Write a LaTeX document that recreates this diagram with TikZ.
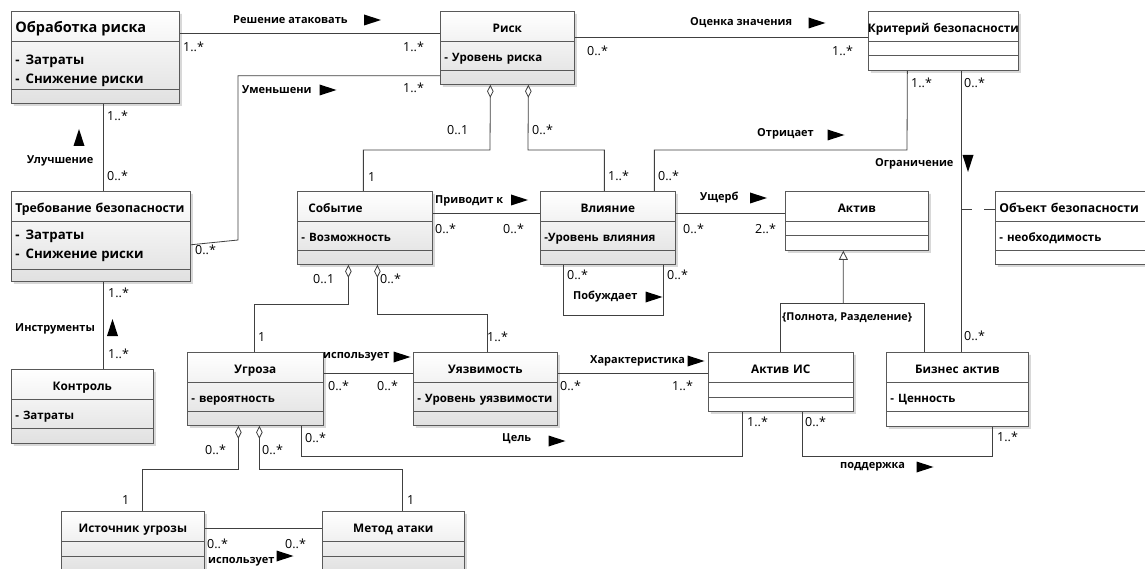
\documentclass[tikz,border=0pt]{standalone}
\usepackage{fontspec}
\setmainfont{Open Sans}
\usetikzlibrary{shapes.multipart,shapes.geometric,shadows,arrows.meta}

\newcommand\bgfont{\fontsize{14.5}{16}\selectfont\bfseries}
\newcommand\nmfont{\fontsize{11.8}{14}\selectfont\bfseries}
\newcommand\bigattr{\fontsize{13.2}{19}\selectfont\bfseries}
\newcommand\atfont{\fontsize{11.5}{13}\selectfont\bfseries}
\newcommand\assocfont{\fontsize{11}{12}\selectfont\bfseries}
\newcommand\multfont{\fontsize{12.5}{14}\selectfont}
\newcommand\cname[1]{\nmfont\makebox[\linewidth]{\rule[-8pt]{0pt}{29pt}#1}}
\newcommand\lname[2][\bgfont]{#1\makebox[\linewidth][l]{\rule[-8pt]{0pt}{29pt}#2}}
\newcommand\cattr[1]{\atfont\rule[-9pt]{0pt}{29pt}#1}
\newcommand\twoattr[3][23]{\bigattr\rule{0pt}{#1pt}-\hspace{6pt}#2\\-\hspace{6pt}#3\rule[-\numexpr29-#1\relax pt]{0pt}{\numexpr29-#1\relax pt}}
\newcommand\cgap[1]{\rule{0pt}{#1pt}}

\begin{document}
\begin{tikzpicture}[x=1pt, y=-1pt,
    cls/.style={rectangle split, rectangle split parts=3, draw=black!65, line width=0.7pt,
      inner xsep=4pt, inner ysep=0pt, anchor=north west, align=left,
      font=\fontsize{12}{19}\selectfont,
      drop shadow={shadow xshift=2.5pt, shadow yshift=-2.5pt, fill=black!30}},
    tinted/.style={top color=white, bottom color=black!12},
    blank/.style={fill=white},
    link/.style={draw=black!75, line width=0.8pt},
    agg/.style={link, {Diamond[open, length=13pt, width=6.5pt]}-},
    mult/.style={font=\multfont, inner sep=0pt, anchor=west},
    assoc/.style={font=\assocfont, inner sep=0pt, anchor=west},
    dirmark/.style={isosceles triangle, isosceles triangle stretches, fill=black,
      inner sep=0pt, minimum height=17pt, minimum width=11pt}]
  \useasboundingbox (0,0) rectangle (1145,569);
  \clip (0,0) rectangle (1145,569);
  \fill[white] (0,0) rectangle (1145,569);

  \node[cls, tinted, text width=160pt] (obr) at (11,11) {\lname{Обработка риска}\nodepart{second}\twoattr{Затраты}{Снижение риски}\nodepart{third}\cgap{13}};
  \node[cls, tinted, text width=126pt] (rsk) at (440,11) {\cname{Риск}\nodepart{second}\cattr{- Уровень риска}\nodepart{third}\cgap{13}};
  \node[cls, blank, text width=142pt] (krit) at (868,11) {\cname{Критерий безопасности}\nodepart{second}\cgap{14}\nodepart{third}\cgap{14}};
  \node[cls, tinted, text width=171pt] (treb) at (11,191) {\lname[\fontsize{12.3}{15}\selectfont\bfseries]{Требование безопасности}\nodepart{second}\twoattr[18]{Затраты}{Снижение риски}\nodepart{third}\cgap{11}};
  \node[cls, tinted, text width=127pt] (sob) at (297,191) {\lname[\nmfont]{\hspace*{7pt}Событие}\nodepart{second}\cattr{- Возможность}\nodepart{third}\cgap{13}};
  \node[cls, tinted, text width=127pt] (vli) at (540,191) {\cname{Влияние}\nodepart{second}\cattr{-Уровень влияния}\nodepart{third}\cgap{13}};
  \node[cls, blank, text width=135pt] (akt) at (785,191) {\cname{Актив}\nodepart{second}\cgap{14}\nodepart{third}\cgap{14}};
  \node[cls, blank, text width=152pt] (obj) at (995,191) {\lname[\fontsize{12.2}{15}\selectfont\bfseries]{Объект безопасности}\nodepart{second}\cattr{- необходимость}\nodepart{third}\cgap{13}};
  \node[cls, tinted, text width=134pt] (kon) at (11,369) {\cname{Контроль}\nodepart{second}\cattr{- Затраты}\nodepart{third}\cgap{14}};
  \node[cls, tinted, text width=128pt] (ugr) at (187,352) {\cname{Угроза}\nodepart{second}\cattr{- вероятность}\nodepart{third}\cgap{13}};
  \node[cls, tinted, text width=136pt] (uya) at (413,352) {\cname{Уязвимость}\nodepart{second}\cattr{- Уровень уязвимости}\nodepart{third}\cgap{13}};
  \node[cls, blank, text width=137pt] (aki) at (708,352) {\cname{Актив ИС}\nodepart{second}\cgap{15}\nodepart{third}\cgap{13}};
  \node[cls, blank, text width=134pt] (biz) at (886,352) {\cname{Бизнес актив}\nodepart{second}\cattr{- Ценность}\nodepart{third}\cgap{14}};
  \node[cls, tinted, text width=135pt] (ist) at (61,511) {\cname{Источник угрозы}\nodepart{second}\cgap{15}\nodepart{third}\cgap{15}};
  \node[cls, tinted, text width=134pt] (met) at (322,511) {\cname{Метод атаки}\nodepart{second}\cgap{15}\nodepart{third}\cgap{15}};

  \node[minimum width=144pt, minimum height=49pt, inner sep=0pt, anchor=north west] (gen) at (780,303) {};
  \node[assoc, font=\fontsize{10.8}{12}\selectfont\bfseries] (genlbl) at (782,318) {\{Полнота, Разделение\}};

  \draw[link] ([yshift=-22pt]obr.north east) -- ([yshift=-22pt]rsk.north west);
  \draw[link] ([yshift=9pt]rsk.south west) -| (238,240) -- ([yshift=37pt]treb.south east);
  \draw[link] ([xshift=8pt]obr.south) -- ([xshift=2.5pt]treb.north);
  \draw[link] ([xshift=2.5pt]treb.south) -- ([xshift=21pt]kon.north);
  \draw[link] ([yshift=-26pt]rsk.north east) -- ([yshift=-26pt]krit.north west);
  \draw[agg] ([xshift=-17pt]rsk.south) -- (490,150) -| ([xshift=-1.5pt]sob.north);
  \draw[agg] ([xshift=21pt]rsk.south) -- (528,150) -| ([xshift=-3.5pt]vli.north);
  \draw[link] ([xshift=-36pt]krit.south) -- (907,150) -| ([xshift=46.5pt]vli.north);
  \draw[link] ([xshift=18pt]krit.south) -- coordinate[pos=0.493] (oc) ([xshift=4pt]biz.north);
  \draw[link, dash pattern=on 11pt off 12pt] (oc) -- (oc -| obj.west);
  \draw[link] ([yshift=-22pt]sob.north east) -- ([yshift=-22pt]vli.north west);
  \draw[link] ([xshift=-44.5pt]vli.south) -- ++(0,51) -| ([xshift=55.5pt]vli.south);
  \draw[link] ([yshift=-22pt]vli.north east) -- ([yshift=-22pt]akt.north west);
  \draw[link] (aki.north -| gen.west) |- (gen.north east) -- (biz.north -| gen.east);
  \draw[link, -{Triangle[open, length=9pt, width=9pt]}] ([xshift=-9pt]gen.north) -- ([xshift=-13.5pt]akt.south);
  \draw[agg] ([xshift=-16.5pt]sob.south) -- ++(0,40) -| ([xshift=-1pt]ugr.north);
  \draw[agg] ([xshift=12.5pt]sob.south) -- ++(0,50) -| ([xshift=2pt]uya.north);
  \draw[link] ([yshift=-21pt]ugr.north east) -- ([yshift=-21pt]uya.north west);
  \draw[link] ([yshift=-21pt]uya.north east) -- ([yshift=-21pt]aki.north west);
  \draw[link] ([xshift=46pt]ugr.south) -- ++(0,31) -| ([xshift=-38.5pt]aki.south);
  \draw[link] ([xshift=21.5pt]aki.south) -- ++(0,45) -| ([xshift=35pt]biz.south);
  \draw[agg] ([xshift=-17pt]ugr.south) -- ++(0,44) -| ([xshift=9.5pt]ist.north);
  \draw[agg] ([xshift=4pt]ugr.south) -- ++(0,44) -| ([xshift=9pt]met.north);
  \draw[link] ([yshift=-17pt]ist.north east) -- ([yshift=-17pt]met.north west);

  \foreach \t/\x/\y [count=\i] in {Решение атаковать/233/20, Уменьшени/242/90,
      Оценка значения/690/23, Отрицает/757/134, Ограничение/875/164, Улучшение/27/161,
      Инструменты/15/329, Приводит к/435/201, Ущерб/700/198, использует/323/357,
      Характеристика/590/361, Цель/502/439, Побуждает/573/297, поддержка/840/467,
      использует/208/562}
    \node[assoc] (a\i) at (\x,\y) {\t};

  \foreach \x/\y/\r [count=\i] in {368/20/0, 323.5/90/0, 812.5/23/0, 831.5/135/0,
      968/159/-90, 79/142/90, 112.5/332/90, 515/200/0, 754/198/0, 397.5/357/0,
      691.5/361/0, 552.5/441/0, 649.5/297/0, 920.5/467/0, 280.5/556/0}
    \node[dirmark, shape border rotate=\r] (d\i) at (\x,\y) {};

  \foreach \t/\x/\y [count=\i] in {{1..*}/183/47, {1..*}/403/47, {1..*}/403/88,
      {0..*}/195/250, {1..*}/107/116, {0..*}/107/176, {1..*}/108/293, {1..*}/108/354,
      {0..*}/587/51, {1..*}/832/51, {0..1}/447/130, {0..*}/532/130, 1/368/177,
      {1..*}/608/176, {0..*}/658/176, {1..*}/911/83, {0..*}/964/83, {0..*}/435/229,
      {0..*}/503/229, {0..*}/683/229, {2..*}/755/229, {0..*}/567/275, {0..*}/667/275,
      {0..*}/964/336, {0..1}/313/279, {0..*}/380/279, 1/258/337, {1..*}/487/337,
      {0..*}/328/386, {0..*}/377/386, {0..*}/560/386, {1..*}/672/386, {0..*}/305/438,
      {1..*}/747/422, {0..*}/805/422, {1..*}/997/437, {0..*}/205/450, {0..*}/262/450,
      1/122/500, 1/407/500, {0..*}/207/544, {0..*}/285/544}
    \node[mult] (m\i) at (\x,\y) {\t};
\end{tikzpicture}
\end{document}
